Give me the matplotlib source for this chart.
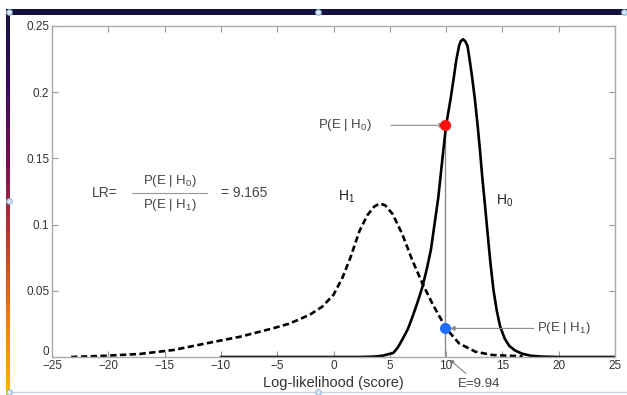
import matplotlib
matplotlib.use("Agg")
import matplotlib.pyplot as plt
import numpy as np
from matplotlib.colors import LinearSegmentedColormap
from matplotlib.transforms import ScaledTranslation

plt.rcParams['font.family'] = ['Liberation Sans', 'DejaVu Sans']
plt.rcParams['mathtext.fontset'] = 'custom'
plt.rcParams['mathtext.rm'] = 'Liberation Sans'
plt.rcParams['mathtext.it'] = 'Liberation Sans'

# H0 curve (solid)
h0_x = [-10, -2, 2.3, 3.6, 4.4, 4.8, 5.3, 5.7, 6.1, 6.6, 7.0, 7.45, 7.9, 8.3, 8.65,
        9.3, 9.65, 10.0, 10.4, 10.7, 10.9, 11.15, 11.3, 11.5, 11.7, 11.9, 12.1,
        12.3, 12.55, 12.8, 13.0, 13.2, 13.45, 13.7, 13.95, 14.2, 14.5, 14.8,
        15.2, 15.6, 16.1, 16.75, 17.5, 18.5, 20, 25]
h0_y = [0, 0, 0, 0.0003, 0.001, 0.002, 0.003, 0.007, 0.013, 0.021, 0.030, 0.041,
        0.053, 0.067, 0.081, 0.120, 0.148, 0.175, 0.195, 0.212, 0.224, 0.235,
        0.2385, 0.240, 0.2385, 0.235, 0.224, 0.212, 0.195, 0.175, 0.157, 0.137,
        0.115, 0.092, 0.070, 0.051, 0.035, 0.023, 0.014, 0.0085, 0.005, 0.0025,
        0.001, 0.0003, 0, 0]

# H1 curve (dashed)
h1_x = [-23.3, -20.1, -17.2, -14.2, -11.3, -8.3, -5.4, -4.0, -3.0, -2.0, -1.0,
        0.0, 0.8, 1.5, 2.3, 3.0, 3.6, 4.1, 4.6, 5.25, 6.1, 7.0, 7.9, 8.8, 10.0,
        11.15, 12.6, 14.1, 16.8]
h1_y = [0, 0.001, 0.0023, 0.0053, 0.0103, 0.0153, 0.0216, 0.025, 0.0285, 0.0325,
        0.038, 0.047, 0.060, 0.075, 0.095, 0.107, 0.1135, 0.116, 0.1145, 0.108,
        0.093, 0.073, 0.0555, 0.040, 0.0216, 0.0103, 0.004, 0.0015, 0.0005]

e_score = 9.94
p_h0 = 0.175
p_h1 = 0.0216
lr_value = 9.165

x_ticks = [-25, -20, -15, -10, -5, 0, 5, 10, 15, 20, 25]
y_ticks = [0, 0.05, 0.1, 0.15, 0.2, 0.25]
y_tick_labels = ['0', '0.05', '0.1', '0.15', '0.2', '0.25']

fig = plt.figure(figsize=(6.27, 3.95), dpi=100)
fig.patch.set_facecolor('white')

# window decoration: dark top bar, gradient strip, selection handles
top = fig.add_axes([6 / 627, 1 - 15 / 395, 1 - 6 / 627, 6 / 395])
top.set_facecolor('#15123f')
top.set_xticks([]); top.set_yticks([])
for s in top.spines.values():
    s.set_visible(False)

strip_cmap = LinearSegmentedColormap.from_list(
    'strip', ['#15123f', '#3a0c5c', '#7a0f52', '#c23a2c', '#f07a12', '#ffb400'])
side = fig.add_axes([6 / 627, 0, 4 / 627, 1 - 10 / 395])
side.imshow(np.linspace(0, 1, 100).reshape(-1, 1), cmap=strip_cmap, aspect='auto')
side.axis('off')

fig.add_artist(plt.Line2D([10 / 627, 1], [1 - 392 / 395] * 2, color='#c9d6e3', lw=1))
hx = [9, 318, 624, 9, 9, 318]
hy = [12, 12, 12, 201, 392, 392]
for px, py in zip(hx, hy):
    fig.add_artist(plt.Line2D([px / 627], [1 - py / 395], marker='o', ms=4,
                              mfc='#dbe9f6', mec='#8fb3d6', mew=0.8))

ax = fig.add_axes([52 / 627, 1 - 357 / 395, (615 - 52) / 627, (357 - 26) / 395])

ax.plot(h0_x, h0_y, color='black', lw=1.9, solid_capstyle='round')
ax.plot(h1_x, h1_y, color='black', lw=1.9, linestyle=(0, (2.4, 1.3)))

ax.plot([e_score, e_score], [0, p_h0], color='#8c8c8c', lw=1.0, zorder=1)
ax.plot(e_score, p_h0, 'o', color='#ff1010', ms=7, zorder=5)
ax.plot(e_score, p_h1, 'o', color='#1f6fff', ms=7, zorder=5)

ax.annotate('', xy=(e_score + 0.15, p_h0), xytext=(5.1, p_h0),
            arrowprops=dict(arrowstyle='-|>', color='#888888', lw=0.8,
                            mutation_scale=7, shrinkA=0, shrinkB=2))
ax.text(3.4, p_h0, r'P(E | H$_0$)', ha='right', va='center', fontsize=9.5, color='#444444')

ax.annotate('', xy=(e_score + 0.15, p_h1), xytext=(17.8, p_h1),
            arrowprops=dict(arrowstyle='-|>', color='#888888', lw=0.8,
                            mutation_scale=7, shrinkA=0, shrinkB=2))
ax.text(18.05, p_h1, r'P(E | H$_1$)', ha='left', va='center', fontsize=9.5, color='#444444')

ax.text(1.15, 0.121, r'H$_1$', ha='center', va='center', fontsize=10, color='#222222')
ax.text(15.2, 0.118, r'H$_0$', ha='center', va='center', fontsize=10, color='#222222')

# likelihood ratio formula
ax.text(-20.3, 0.124, 'LR=', ha='center', va='center', fontsize=10, color='#444444')
ax.text(-14.5, 0.133, r'P(E | H$_0$)', ha='center', va='center', fontsize=9.5, color='#444444')
ax.plot([-17.9, -11.2], [0.124, 0.124], color='#999999', lw=0.8)
ax.text(-14.5, 0.115, r'P(E | H$_1$)', ha='center', va='center', fontsize=9.5, color='#444444')
ax.text(-7.9, 0.124, '= %.3f' % lr_value, ha='center', va='center', fontsize=10, color='#444444')

ax.annotate('E=%.2f' % e_score, xy=(10.3, -0.002), xytext=(12.9, -0.0205),
            ha='center', va='center', fontsize=9.5, color='#444444',
            annotation_clip=False,
            arrowprops=dict(arrowstyle='-|>', color='#777777', lw=0.7,
                            mutation_scale=6, shrinkA=2, shrinkB=0))

ax.set_xlim(-25, 25)
ax.set_ylim(0, 0.25)
ax.set_xticks(x_ticks)
ax.set_yticks(y_ticks)
ax.set_yticklabels(y_tick_labels)
ax.tick_params(direction='in', length=4, width=0.8, color='#999999',
               labelsize=8.5, labelcolor='#333333', top=True, right=True, pad=2)
# the corner "0" sits a little above the "-25", as in the original
zero_lbl = ax.get_yticklabels()[0]
zero_lbl.set_transform(zero_lbl.get_transform() + ScaledTranslation(0, 5 / 72, fig.dpi_scale_trans))
for s in ax.spines.values():
    s.set_color('#aaaaaa')
    s.set_linewidth(1.0)
ax.set_xlabel('Log-likelihood (score)', fontsize=10.5, color='#333333', labelpad=3)

fig.savefig('out.png', dpi=100)
